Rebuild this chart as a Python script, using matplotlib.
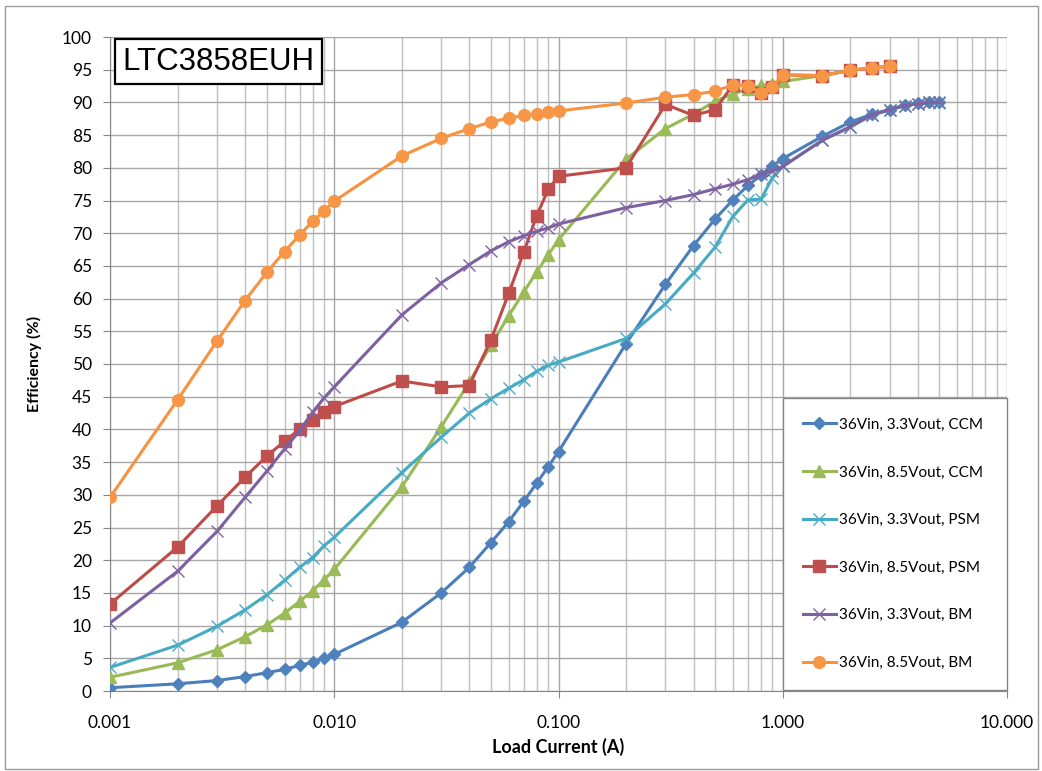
"""LTC3858EUH efficiency vs load current chart."""

import matplotlib
matplotlib.use("Agg")
import matplotlib.pyplot as plt
from matplotlib.patches import Rectangle

# load current steps (A)
i_low = [0.001, 0.002, 0.003, 0.004, 0.005, 0.006, 0.007, 0.008, 0.009, 0.01,
         0.02, 0.03, 0.04, 0.05, 0.06, 0.07, 0.08, 0.09, 0.1,
         0.2, 0.3, 0.4, 0.5, 0.6, 0.7, 0.8, 0.9, 1.0]
i_33 = i_low + [1.5, 2.0, 2.5, 3.0, 3.5, 4.0, 4.5, 5.0]
i_85 = i_low + [1.5, 2.0, 2.5, 3.0]
i_85_ccm = i_low + [1.5, 2.0]

# efficiency (%)
eff_33_ccm = [0.5, 1.1, 1.6, 2.2, 2.8, 3.3, 3.9, 4.4, 5.0, 5.6,
              10.5, 15.0, 18.9, 22.7, 25.9, 29.0, 31.8, 34.3, 36.6,
              53.1, 62.2, 68.1, 72.2, 75.1, 77.3, 78.9, 80.3, 81.4,
              84.8, 87.0, 88.2, 88.9, 89.6, 89.9, 90.0, 90.0]
eff_85_ccm = [2.1, 4.3, 6.3, 8.3, 10.1, 11.9, 13.7, 15.3, 17.0, 18.6,
              31.2, 40.4, 47.2, 52.9, 57.4, 61.0, 64.1, 66.7, 69.0,
              81.3, 86.0, 88.2, 90.2, 91.3, 92.0, 92.6, 92.8, 93.2,
              94.1, 94.9]
eff_33_psm = [3.6, 7.0, 9.9, 12.4, 14.7, 16.9, 18.9, 20.4, 22.2, 23.5,
              33.4, 38.8, 42.5, 44.7, 46.3, 47.6, 48.9, 49.8, 50.3,
              53.9, 59.2, 63.9, 67.9, 72.6, 75.1, 75.2, 78.5, 80.2,
              84.2, 86.2, 88.1, 88.8, 89.5, 89.8, 90.0, 89.9]
eff_85_psm = [13.3, 22.0, 28.3, 32.7, 35.9, 38.2, 40.0, 41.4, 42.6, 43.5,
              47.4, 46.5, 46.7, 53.7, 60.8, 67.1, 72.7, 76.7, 78.7,
              80.0, 89.7, 88.0, 88.9, 92.7, 92.5, 91.5, 92.3, 94.2,
              94.1, 94.9, 95.3, 95.5]
eff_33_bm = [10.4, 18.3, 24.4, 29.6, 33.6, 37.0, 39.8, 42.6, 44.8, 46.5,
             57.5, 62.4, 65.2, 67.3, 68.7, 69.6, 70.3, 70.8, 71.4,
             73.9, 75.0, 75.9, 76.8, 77.5, 78.2, 79.0, 79.5, 80.2,
             84.2, 86.3, 88.1, 88.9, 89.5, 89.8, 90.0, 90.0]
eff_85_bm = [29.6, 44.5, 53.5, 59.7, 64.0, 67.2, 69.7, 71.8, 73.4, 74.9,
             81.8, 84.5, 86.0, 87.0, 87.6, 88.0, 88.3, 88.5, 88.7,
             89.9, 90.8, 91.2, 91.7, 92.7, 92.5, 91.5, 92.3, 94.2,
             94.1, 94.9, 95.3, 95.5]

series = [
    (i_33, eff_33_ccm, "36Vin, 3.3Vout, CCM", "#4A7EBB", "D", 6.5, "#4F81BD"),
    (i_85_ccm, eff_85_ccm, "36Vin, 8.5Vout, CCM", "#98B954", "^", 8, "#9BBB59"),
    (i_33, eff_33_psm, "36Vin, 3.3Vout, PSM", "#46AAC5", "x", 8, "#4BACC6"),
    (i_85, eff_85_psm, "36Vin, 8.5Vout, PSM", "#BE4B48", "s", 8.5, "#C0504D"),
    (i_33, eff_33_bm, "36Vin, 3.3Vout, BM", "#7D60A0", "x", 8, "#8064A2"),
    (i_85, eff_85_bm, "36Vin, 8.5Vout, BM", "#F69240", "o", 8.5, "#F79646"),
]

plt.rcParams["font.family"] = ["Lato", "DejaVu Sans"]

fig = plt.figure(figsize=(10.42, 7.71), dpi=100)
ax = fig.add_axes([110 / 1042, 1 - 691 / 771, 897 / 1042, 654 / 771])

for x, y, label, lc, mk, ms, mc in series:
    ax.plot(x, y, color=lc, lw=2.2, marker=mk, markersize=ms,
            markerfacecolor=mc, markeredgecolor=mc, markeredgewidth=1.0,
            label=label, zorder=3)

ax.set_xscale("log")
ax.set_xlim(0.001, 10)
ax.set_ylim(0, 100)
ax.set_yticks(range(0, 101, 5))
ax.set_xticks([0.001, 0.01, 0.1, 1, 10])
ax.set_xticklabels(["0.001", "0.010", "0.100", "1.000", "10.000"])
ax.tick_params(axis="both", which="major", labelsize=12.5, length=5,
               color="#868686", direction="out")
ax.tick_params(axis="x", which="major", pad=12)
ax.tick_params(axis="y", which="major", pad=8)
ax.tick_params(axis="x", which="minor", length=0)
ax.grid(True, which="major", color="#A6A6A6", lw=1.0)
ax.grid(True, which="minor", axis="x", color="#BFBFBF", lw=1.0)
ax.set_axisbelow(True)
for side in ["top", "right"]:
    ax.spines[side].set_visible(False)
for side in ["left", "bottom"]:
    ax.spines[side].set_color("#868686")

ax.set_xlabel("Load Current (A)", fontsize=13, fontweight="bold", labelpad=5)
ax.set_ylabel("Efficiency (%)", fontsize=11.5, fontweight="bold", labelpad=14)

ax.text(0.00114, 96.2, "LTC3858EUH", fontsize=22.5, family=["Liberation Sans"],
        va="center", ha="left", zorder=5,
        bbox=dict(boxstyle="square,pad=0.24", fc="white", ec="black", lw=1.6))

leg = ax.legend(loc="center", bbox_to_anchor=(0.75, 0.0, 0.25, 0.45),
                mode="expand", fontsize=11, frameon=True, fancybox=False,
                edgecolor="#868686", framealpha=1.0, labelspacing=2.2,
                handlelength=2.2, handletextpad=0.2, borderpad=1.3,
                borderaxespad=0)
leg.get_frame().set_linewidth(1.0)
leg.set_zorder(6)

fig.patches.append(Rectangle((5 / 1042, 2 / 771), 1033 / 1042, 763 / 771,
                             transform=fig.transFigure, fill=False,
                             ec="#9A9A9A", lw=1.0))

plt.savefig("out.png", dpi=100)
